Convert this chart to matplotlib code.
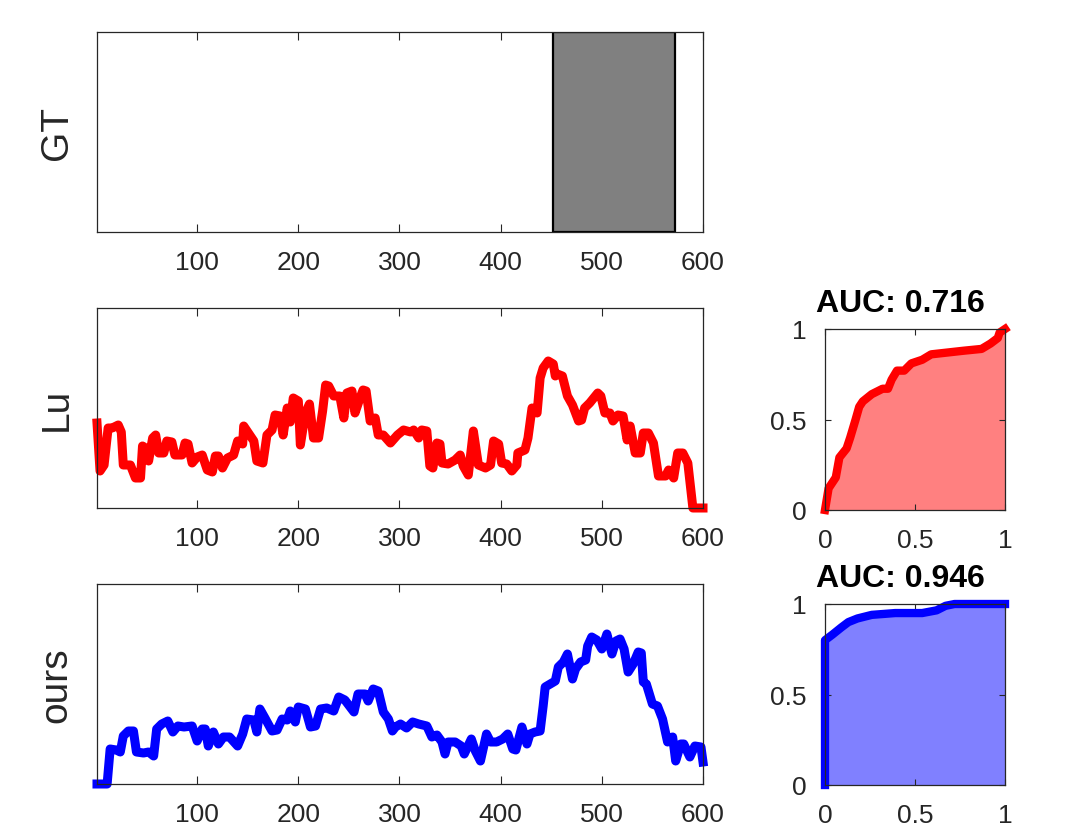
import matplotlib
matplotlib.use("Agg")
import matplotlib.pyplot as plt
from matplotlib.patches import Rectangle

# ---------------- data ----------------
gt_start = 452
gt_end = 572

lu_frames = [1, 4, 8, 12, 16, 22, 25, 27, 34, 39, 44, 46, 49, 52, 56, 59, 62, 67, 70, 75,
             78, 85, 88, 91, 95, 100, 105, 110, 115, 118, 121, 125, 130, 136, 140, 145, 146,
             150, 156, 159, 165, 169, 174, 177, 182, 185, 189, 192, 195, 200, 202, 207, 211,
             215, 220, 224, 227, 230, 235, 241, 245, 248, 253, 256, 261, 264, 267, 271, 276,
             279, 284, 291, 298, 304, 311, 314, 319, 322, 327, 330, 333, 337, 340, 342, 348,
             355, 360, 363, 368, 373, 378, 385, 390, 393, 398, 401, 406, 411, 416, 417, 424,
             427, 431, 436, 439, 442, 447, 452, 454, 456, 461, 466, 471, 477, 480, 483, 488,
             496, 499, 503, 508, 511, 516, 521, 525, 528, 533, 538, 541, 546, 551, 556, 563,
             566, 571, 575, 580, 585, 590, 600]
lu_scores = [0.425, 0.185, 0.215, 0.40, 0.40, 0.415, 0.38, 0.215, 0.215, 0.15, 0.15, 0.31,
             0.30, 0.235, 0.35, 0.365, 0.275, 0.275, 0.335, 0.33, 0.265, 0.265, 0.325, 0.32,
             0.225, 0.255, 0.265, 0.19, 0.18, 0.26, 0.26, 0.20, 0.25, 0.265, 0.335, 0.32,
             0.41, 0.38, 0.335, 0.235, 0.225, 0.365, 0.39, 0.465, 0.46, 0.365, 0.50, 0.43,
             0.55, 0.535, 0.315, 0.475, 0.52, 0.35, 0.35, 0.485, 0.615, 0.61, 0.56, 0.56,
             0.45, 0.575, 0.585, 0.475, 0.55, 0.59, 0.585, 0.435, 0.45, 0.365, 0.365, 0.325,
             0.365, 0.39, 0.38, 0.39, 0.35, 0.39, 0.385, 0.21, 0.20, 0.325, 0.32, 0.225,
             0.22, 0.24, 0.265, 0.21, 0.165, 0.385, 0.215, 0.20, 0.215, 0.335, 0.32, 0.225,
             0.22, 0.185, 0.215, 0.275, 0.29, 0.35, 0.50, 0.475, 0.65, 0.70, 0.735, 0.72,
             0.66, 0.67, 0.66, 0.56, 0.515, 0.435, 0.44, 0.50, 0.525, 0.575, 0.56, 0.475,
             0.475, 0.435, 0.465, 0.46, 0.34, 0.41, 0.275, 0.275, 0.375, 0.375, 0.325, 0.16,
             0.16, 0.19, 0.15, 0.275, 0.275, 0.225, 0.0, 0.0]

ours_frames = [1, 11, 14, 20, 24, 27, 32, 37, 40, 47, 52, 57, 60, 65, 71, 76, 81, 87, 95,
               100, 105, 108, 111, 116, 121, 126, 132, 140, 145, 149, 156, 159, 162, 167,
               174, 179, 184, 189, 192, 197, 200, 207, 212, 217, 222, 228, 235, 240, 246,
               255, 259, 266, 269, 274, 279, 284, 289, 293, 296, 301, 307, 313, 319, 327,
               332, 337, 342, 345, 348, 355, 361, 364, 371, 375, 380, 386, 390, 396, 402,
               407, 412, 415, 421, 426, 429, 434, 439, 442, 444, 449, 454, 457, 462, 466,
               471, 474, 479, 484, 486, 490, 495, 500, 505, 510, 514, 518, 522, 526, 531,
               536, 539, 541, 544, 550, 555, 560, 565, 570, 573, 578, 581, 587, 592, 598, 600]
ours_scores = [0.0, 0.0, 0.175, 0.17, 0.16, 0.24, 0.265, 0.265, 0.16, 0.155, 0.16, 0.14,
               0.275, 0.30, 0.315, 0.26, 0.29, 0.285, 0.29, 0.215, 0.275, 0.275, 0.19, 0.26,
               0.20, 0.235, 0.235, 0.19, 0.25, 0.325, 0.32, 0.26, 0.375, 0.33, 0.265, 0.27,
               0.325, 0.32, 0.365, 0.31, 0.385, 0.375, 0.285, 0.29, 0.375, 0.38, 0.365, 0.435,
               0.42, 0.36, 0.45, 0.45, 0.415, 0.475, 0.465, 0.36, 0.325, 0.265, 0.285, 0.30,
               0.28, 0.31, 0.30, 0.29, 0.235, 0.245, 0.21, 0.15, 0.21, 0.21, 0.19, 0.15, 0.225,
               0.165, 0.115, 0.25, 0.21, 0.21, 0.225, 0.25, 0.175, 0.17, 0.285, 0.20, 0.25,
               0.26, 0.265, 0.39, 0.485, 0.50, 0.515, 0.585, 0.61, 0.65, 0.525, 0.575, 0.61,
               0.62, 0.69, 0.735, 0.72, 0.675, 0.75, 0.65, 0.715, 0.725, 0.675, 0.56, 0.60,
               0.66, 0.655, 0.51, 0.50, 0.40, 0.39, 0.325, 0.21, 0.235, 0.115, 0.20, 0.20,
               0.135, 0.19, 0.185, 0.11]

lu_fpr = [0.0, 0.02, 0.06, 0.08, 0.12, 0.14, 0.17, 0.19, 0.21, 0.26, 0.32, 0.35, 0.37, 0.40,
          0.44, 0.48, 0.54, 0.59, 0.68, 0.77, 0.87, 0.92, 0.96, 0.97, 1.0]
lu_tpr = [0.0, 0.12, 0.18, 0.29, 0.34, 0.40, 0.50, 0.57, 0.60, 0.64, 0.67, 0.67, 0.72, 0.77,
          0.77, 0.81, 0.83, 0.86, 0.87, 0.88, 0.89, 0.92, 0.95, 0.98, 1.0]
ours_fpr = [0.0, 0.0, 0.04, 0.09, 0.13, 0.18, 0.26, 0.39, 0.54, 0.62, 0.67, 0.72, 1.0]
ours_tpr = [0.0, 0.80, 0.83, 0.87, 0.90, 0.92, 0.94, 0.95, 0.95, 0.965, 0.99, 1.0, 1.0]

auc_titles = ["AUC: 0.716", "AUC: 0.946"]
row_labels = ["GT", "Lu", "ours"]
xticks_main = [100, 200, 300, 400, 500, 600]
roc_ticks = [0, 0.5, 1]
roc_ticklabels = ["0", "0.5", "1"]

# ---------------- style ----------------
plt.rcParams['font.family'] = ['Liberation Sans', 'DejaVu Sans']
TXT = '#262626'
W, H = 1070, 828
fig = plt.figure(figsize=(W / 100, H / 100), dpi=100)


def frac(left, top, right, bottom):
    return [left / W, (H - bottom) / H, (right - left) / W, (bottom - top) / H]


def style_main(ax, label):
    ax.set_xlim(1, 600)
    ax.set_ylim(0, 1)
    ax.set_xticks(xticks_main)
    ax.set_xticklabels([str(t) for t in xticks_main])
    ax.set_yticks([])
    ax.tick_params(axis='x', direction='in', top=True, bottom=True, length=6,
                   width=0.8, color=TXT, labelcolor=TXT, labelsize=19, pad=13)
    for s in ax.spines.values():
        s.set_color(TXT)
        s.set_linewidth(0.9)
    ax.set_ylabel(label, fontsize=28, color=TXT, labelpad=16)


def style_roc(ax, title):
    ax.set_xlim(0, 1)
    ax.set_ylim(0, 1)
    ax.set_xticks(roc_ticks)
    ax.set_xticklabels(roc_ticklabels)
    ax.set_yticks(roc_ticks)
    ax.set_yticklabels(roc_ticklabels)
    ax.tick_params(axis='both', direction='in', top=True, right=True, length=4,
                   width=0.8, color=TXT, labelcolor=TXT, labelsize=19, pad=13)
    for s in ax.spines.values():
        s.set_color(TXT)
        s.set_linewidth(0.9)
    ax.set_title(title, fontsize=23, fontweight='bold', color='black', pad=13, x=0.42)


# GT
ax_gt = fig.add_axes(frac(97, 33, 703, 233))
ax_gt.add_patch(Rectangle((gt_start, 0), gt_end - gt_start, 1, facecolor='#808080',
                          edgecolor='black', linewidth=1.6, zorder=2))
style_main(ax_gt, row_labels[0])

# Lu
ax_lu = fig.add_axes(frac(97, 309, 703, 509))
ax_lu.plot(lu_frames, lu_scores, color='#ff0000', linewidth=6.5, clip_on=False)
style_main(ax_lu, row_labels[1])

# ours
ax_ours = fig.add_axes(frac(97, 585, 703, 785))
ax_ours.plot(ours_frames, ours_scores, color='#0000ff', linewidth=6.5, clip_on=False)
style_main(ax_ours, row_labels[2])

# ROC Lu
ax_r1 = fig.add_axes(frac(825, 330, 1005, 511))
ax_r1.fill_between(lu_fpr, lu_tpr, 0, color='#ff8080', linewidth=0)
ax_r1.plot(lu_fpr, lu_tpr, color='#ff0000', linewidth=6, clip_on=False)
style_roc(ax_r1, auc_titles[0])

# ROC ours
ax_r2 = fig.add_axes(frac(825, 605, 1005, 786))
ax_r2.fill_between(ours_fpr, ours_tpr, 0, color='#8080ff', linewidth=0)
ax_r2.plot(ours_fpr, ours_tpr, color='#0000ff', linewidth=6, clip_on=False)
style_roc(ax_r2, auc_titles[1])

fig.savefig('out.png', dpi=100)
